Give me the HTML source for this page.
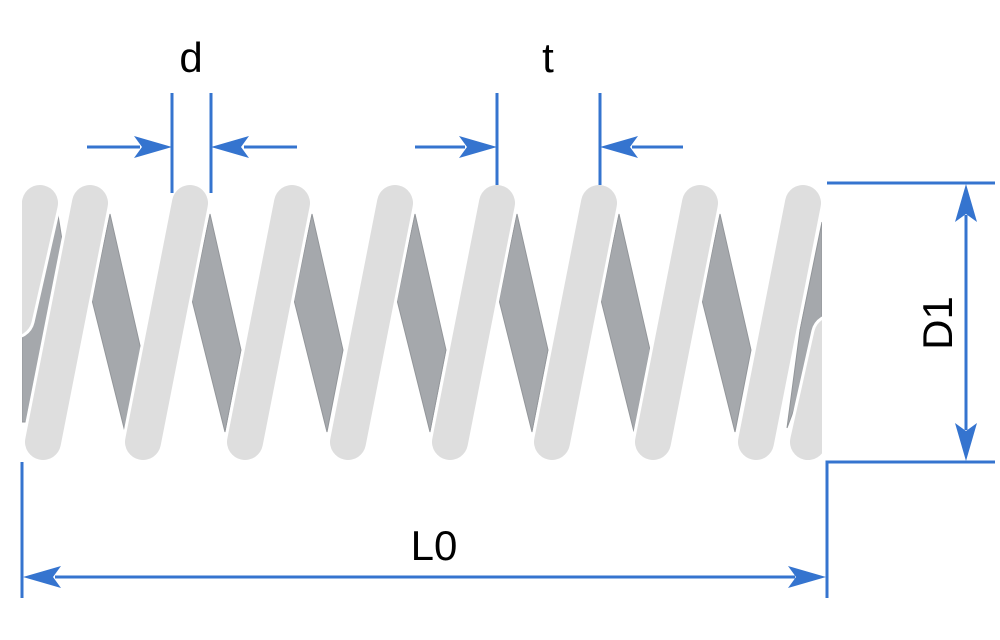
<!DOCTYPE html>
<html><head><meta charset="utf-8"><style>
html,body{margin:0;padding:0;background:#fff;width:1000px;height:640px;overflow:hidden}
svg{display:block}
text{font-family:"Liberation Sans","DejaVu Sans",sans-serif;fill:#000}
</style></head><body>
<svg width="1000" height="640" viewBox="0 0 1000 640" xmlns="http://www.w3.org/2000/svg">
<defs>
<clipPath id="c"><rect x="22" y="150" width="800" height="330"/></clipPath>
<g id="dk"><polygon points="20,214 51,350 35,432 2,300" fill="#a5a8ac" stroke="#93969a" stroke-width="1"/></g>
<g id="bar">
<line x1="0" y1="203" x2="-47" y2="442" stroke="#fff" stroke-width="42" stroke-linecap="round"/>
<line x1="0" y1="203" x2="-47" y2="442" stroke="#dedede" stroke-width="36" stroke-linecap="round"/>
</g>
</defs>
<g clip-path="url(#c)">
<polygon points="58,215 62,240 26,422 22,422 22,322" fill="#a5a8ac" stroke="#93969a"/>
<use href="#dk" x="90"/><use href="#dk" x="190"/><use href="#dk" x="292"/><use href="#dk" x="395"/>
<use href="#dk" x="497"/><use href="#dk" x="599"/><use href="#dk" x="700"/>
<polygon points="822,222 822,335 787,428 800,330" fill="#a5a8ac" stroke="#93969a"/>
<line x1="40" y1="203" x2="14" y2="318" stroke="#fff" stroke-width="42" stroke-linecap="round"/>
<line x1="40" y1="203" x2="14" y2="318" stroke="#dedede" stroke-width="36" stroke-linecap="round"/>
<use href="#bar" x="90"/><use href="#bar" x="190"/><use href="#bar" x="292"/><use href="#bar" x="395"/>
<use href="#bar" x="497"/><use href="#bar" x="599"/><use href="#bar" x="700"/><use href="#bar" x="803"/>
<line x1="832" y1="335" x2="808" y2="442" stroke="#fff" stroke-width="42" stroke-linecap="round"/>
<line x1="832" y1="335" x2="808" y2="442" stroke="#dedede" stroke-width="36" stroke-linecap="round"/>
</g>
<g stroke="#3574cf" stroke-width="3" fill="none">
<line x1="172" y1="93" x2="172" y2="193"/><line x1="211" y1="93" x2="211" y2="193"/>
<line x1="87" y1="147" x2="140" y2="147"/><line x1="244" y1="147" x2="297" y2="147"/>
<line x1="497" y1="93" x2="497" y2="185"/><line x1="600" y1="93" x2="600" y2="185"/>
<line x1="415" y1="147" x2="465" y2="147"/><line x1="632" y1="147" x2="683" y2="147"/>
<line x1="827" y1="183" x2="995" y2="183"/><polyline points="827,598 827,462 995,462"/>
<line x1="966" y1="215" x2="966" y2="430"/>
<line x1="22" y1="462" x2="22" y2="598"/>
<line x1="55" y1="577" x2="795" y2="577"/>
</g>
<g fill="#3574cf">
<polygon points="172,147 134,136 142,147 134,158"/>
<polygon points="211,147 249,136 241,147 249,158"/>
<polygon points="497,147 459,136 467,147 459,158"/>
<polygon points="600,147 638,136 630,147 638,158"/>
<polygon points="966,184 955,222 966,214 977,222"/>
<polygon points="966,461 955,423 966,431 977,423"/>
<polygon points="23,577 61,566 53,577 61,588"/>
<polygon points="826,577 788,566 796,577 788,588"/>
</g>
<text x="191" y="72" font-size="42" text-anchor="middle">d</text>
<text x="548" y="72" font-size="42" text-anchor="middle">t</text>
<text x="434" y="560" font-size="42" text-anchor="middle">L0</text>
<text transform="translate(952,323) rotate(-90)" font-size="42" text-anchor="middle">D1</text>
</svg>
</body></html>
